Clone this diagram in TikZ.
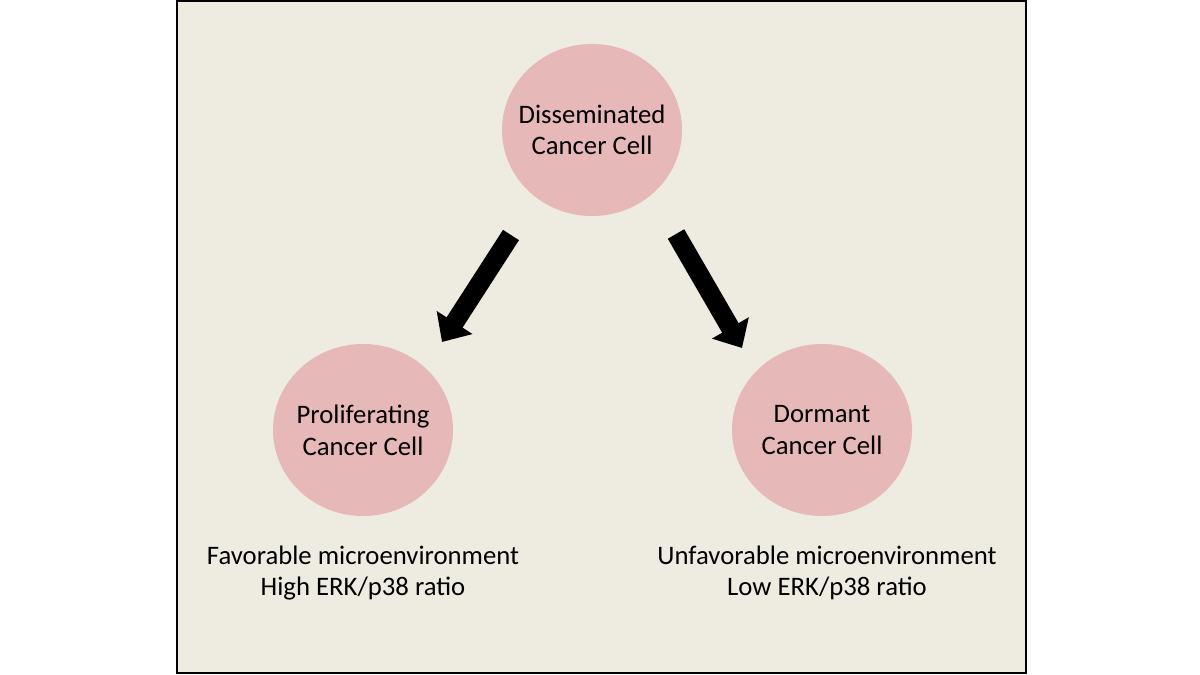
\documentclass[tikz,border=0pt]{standalone}
\usepackage{fontspec}
\setmainfont{Carlito}
\usepackage{xcolor}
\definecolor{panelTan}{HTML}{EEECE1}
\definecolor{cellPink}{HTML}{E6B9B8}
\usetikzlibrary{arrows.meta,shapes.geometric}

\begin{document}
\begin{tikzpicture}[
    x=0.025cm, y=-0.025cm,
    cell/.style={ellipse, fill=cellPink, minimum width=4.5cm, minimum height=4.3cm,
                 inner xsep=-0.3cm, inner ysep=0pt, align=center,
                 font=\fontsize{19}{22.5}\selectfont},
    note/.style={align=center, font=\fontsize{19}{22.5}\selectfont},
    arr/.style={-{Triangle[width=1.03cm,length=0.58cm]}, line width=0.475cm, black},
]
\useasboundingbox (0,0) rectangle (1200,675);

% Panel
\draw[fill=panelTan, line width=0.05cm] (177,1) rectangle (1026,673);

% Cells
\node[cell] (DCC) at (592,130) {Disseminated\\Cancer Cell};
\node[cell] (PCC) at (363,430) {Proliferating\\Cancer Cell};
\node[cell] (DoCC) at (822,430) {Dormant\\Cancer Cell};

% Conditions
\node[note] (fav) at (363,573) {Favorable microenvironment\\High ERK/p38 ratio};
\node[note] (unfav) at (827,573) {Unfavorable microenvironment\\Low ERK/p38 ratio};

% Arrow ends
\coordinate (leftTail) at (511,235);
\coordinate (leftTip) at (442,342);
\coordinate (rightTail) at (676,234);
\coordinate (rightTip) at (742,348);

% Fates
\draw[arr] (leftTail) -- (leftTip);
\draw[arr] (rightTail) -- (rightTip);

\end{tikzpicture}
\end{document}
